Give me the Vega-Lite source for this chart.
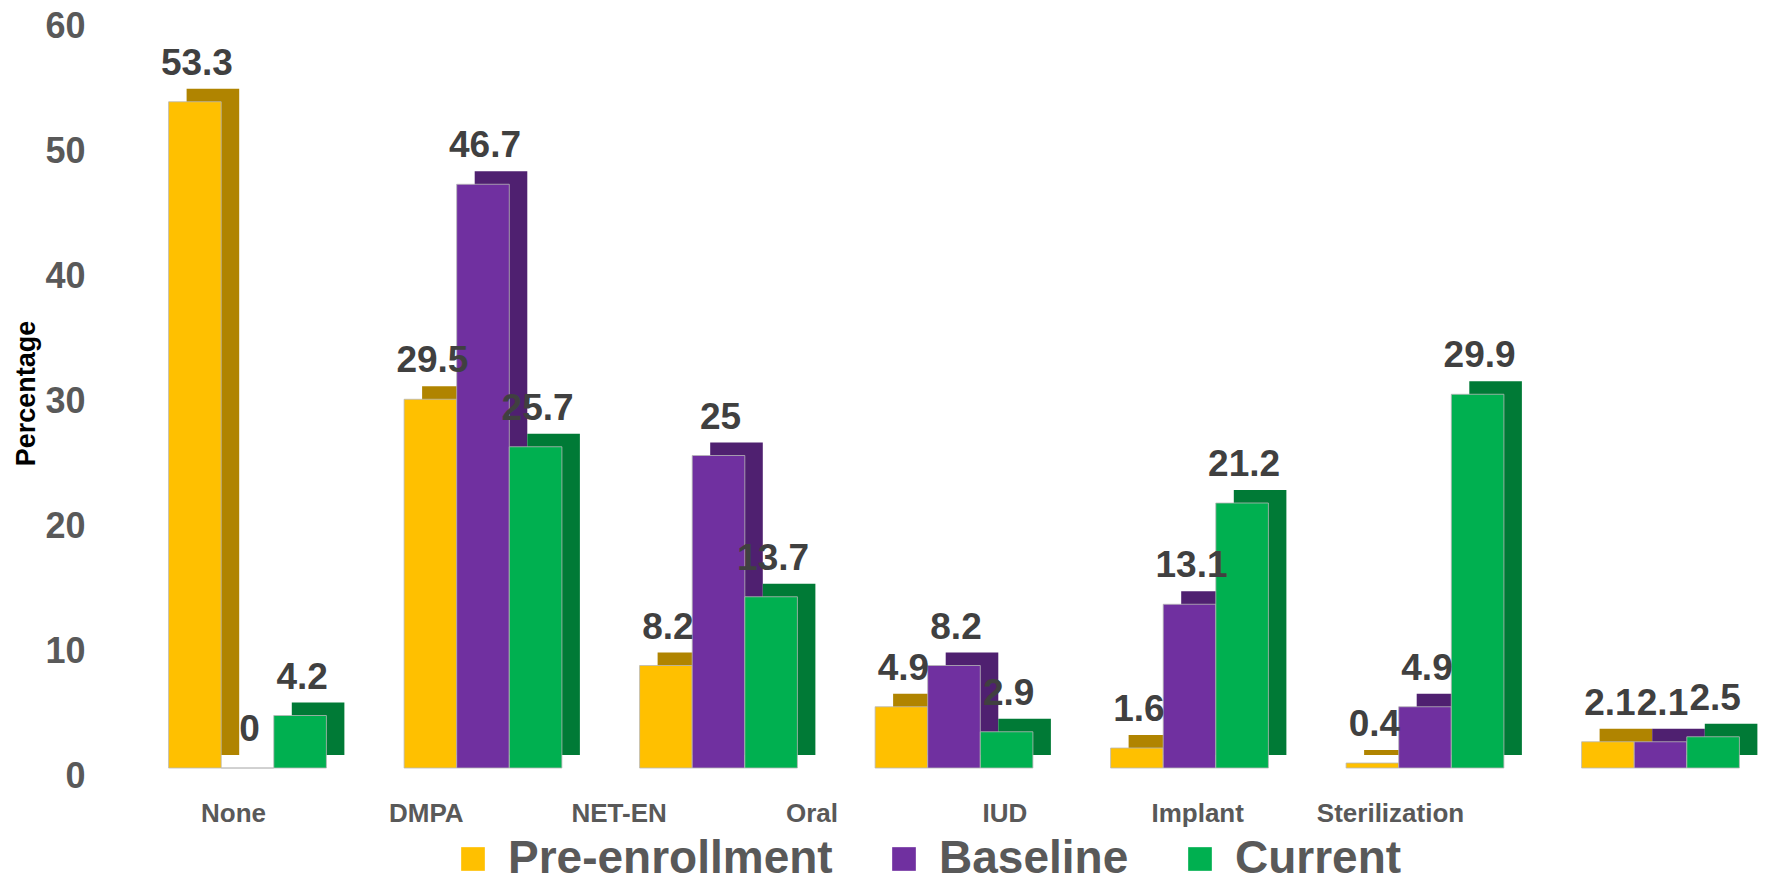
{
  "$schema": "https://vega.github.io/schema/vega-lite/v6.json",
  "width": 1612,
  "height": 750,
  "autosize": {"type": "none"},
  "padding": {"left": 148, "top": 18, "right": 15, "bottom": 119},
  "background": "white",
  "config": {
    "view": {"stroke": null},
    "font": "Liberation Sans"
  },
  "layer": [
    {
      "data": {
        "values": [
          {"category": "None", "series": "Pre-enrollment", "value": 53.3},
          {"category": "None", "series": "Baseline", "value": 0},
          {"category": "None", "series": "Current", "value": 4.2},
          {"category": "DMPA", "series": "Pre-enrollment", "value": 29.5},
          {"category": "DMPA", "series": "Baseline", "value": 46.7},
          {"category": "DMPA", "series": "Current", "value": 25.7},
          {"category": "NET-EN", "series": "Pre-enrollment", "value": 8.2},
          {"category": "NET-EN", "series": "Baseline", "value": 25},
          {"category": "NET-EN", "series": "Current", "value": 13.7},
          {"category": "Oral", "series": "Pre-enrollment", "value": 4.9},
          {"category": "Oral", "series": "Baseline", "value": 8.2},
          {"category": "Oral", "series": "Current", "value": 2.9},
          {"category": "IUD", "series": "Pre-enrollment", "value": 1.6},
          {"category": "IUD", "series": "Baseline", "value": 13.1},
          {"category": "IUD", "series": "Current", "value": 21.2},
          {"category": "Implant", "series": "Pre-enrollment", "value": 0.4},
          {"category": "Implant", "series": "Baseline", "value": 4.9},
          {"category": "Implant", "series": "Current", "value": 29.9},
          {"category": "Sterilization", "series": "Pre-enrollment", "value": 2.1},
          {"category": "Sterilization", "series": "Baseline", "value": 2.1},
          {"category": "Sterilization", "series": "Current", "value": 2.5}
        ]
      },
      "encoding": {
        "x": {"field": "category", "type": "nominal", "sort": null,
              "scale": {"paddingInner": 0.33, "paddingOuter": 0.0875}, "axis": null},
        "y": {"field": "value", "type": "quantitative",
              "scale": {"domain": [0, 60], "nice": false},
              "axis": {"values": [0, 10, 20, 30, 40, 50, 60], "grid": false, "domain": false, "ticks": false,
                       "labelFontSize": 36, "labelFontWeight": "bold", "labelColor": "#595959",
                       "labelPadding": 63, "labelOffset": 8,
                       "title": "Percentage", "titleFontSize": 27, "titleFontWeight": "bold", "titleColor": "#000000",
                       "titlePadding": 4}}
      },
      "layer": [
        {
          "mark": {"type": "bar", "yOffset": -13, "y2Offset": -13},
          "encoding": {
            "xOffset": {"field": "series", "type": "nominal", "sort": ["Pre-enrollment", "Baseline", "Current"],
                        "scale": {"range": [18, 175.78]}},
            "fill": {"condition": [
                       {"test": "datum.series === 'Pre-enrollment'", "value": "#B08400"},
                       {"test": "datum.series === 'Baseline'", "value": "#4F2070"}],
                     "value": "#007A36"}
          }
        },
        {
          "mark": {"type": "bar", "stroke": "#b8b8b8", "strokeWidth": 0.8},
          "encoding": {
            "xOffset": {"field": "series", "type": "nominal", "sort": ["Pre-enrollment", "Baseline", "Current"]},
            "color": {"field": "series", "type": "nominal",
                      "scale": {"domain": ["Pre-enrollment", "Baseline", "Current"], "range": ["#FFC000", "#7030A0", "#00B050"]},
                      "legend": {"title": null, "orient": "none", "direction": "horizontal", "legendX": 302, "legendY": 818,
                                 "symbolType": "square", "symbolSize": 560, "symbolStrokeWidth": 0,
                                 "labelFontSize": 46, "labelFontWeight": "bold", "labelColor": "#595959",
                                 "labelOffset": 12, "columnPadding": 48, "labelLimit": 600}}
          }
        },
        {
          "mark": {"type": "text", "baseline": "bottom", "dy": -19, "dx": 2, "fontSize": 37, "fontWeight": "bold", "color": "#404040"},
          "encoding": {
            "xOffset": {"field": "series", "type": "nominal", "sort": ["Pre-enrollment", "Baseline", "Current"]},
            "text": {"field": "value", "type": "quantitative"}
          }
        }
      ],
      "resolve": {"scale": {"xOffset": "independent"}}
    },
    {
      "data": {"values": [
        {"category": "None"}, {"category": "DMPA"}, {"category": "NET-EN"}, {"category": "Oral"},
        {"category": "IUD"}, {"category": "Implant"}, {"category": "Sterilization"}
      ]},
      "mark": {"type": "text", "opacity": 0},
      "encoding": {
        "x": {"field": "category", "type": "nominal", "sort": null,
              "scale": {"type": "point", "range": [85, 1242], "padding": 0},
              "axis": {"title": null, "domain": false, "ticks": false, "labelAngle": 0,
                       "labelFontSize": 26, "labelFontWeight": "bold", "labelColor": "#595959",
                       "labelPadding": 32, "labelBaseline": "top"}},
        "text": {"value": ""}
      }
    }
  ],
  "resolve": {"scale": {"x": "independent"}, "axis": {"x": "independent"}}
}
